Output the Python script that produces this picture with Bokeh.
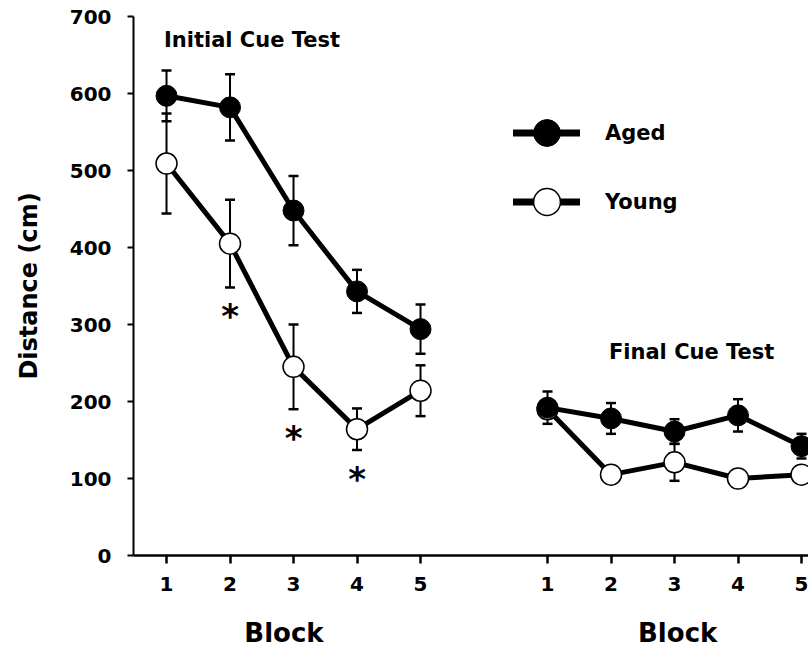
from bokeh.plotting import figure
from bokeh.layouts import column
from bokeh.core.properties import value
from bokeh.models import (ColumnDataSource, Whisker, TeeHead, Label, Legend, LegendItem,
                          FixedTicker, Range1d)
from bokeh.embed import file_html
from bokeh.resources import INLINE

# ---- data ----
blocks = [1, 2, 3, 4, 5]
block_labels = ["1", "2", "3", "4", "5"]
y_ticks = [0, 100, 200, 300, 400, 500, 600, 700]

initial_aged = [597, 582, 448, 343, 294]
initial_aged_sem = [33, 43, 45, 28, 32]
initial_young = [509, 405, 245, 164, 214]
initial_young_sem = [65, 57, 55, 27, 33]

final_aged = [192, 178, 161, 182, 142]
final_aged_sem = [21, 20, 16, 21, 16]
final_young = [190, 105, 121, 100, 105]
final_young_sem = [10, 5, 24, 5, 6]

sig_blocks = [2, 3, 4]  # significant differences in initial cue test

# ---- layout constants ----
FINAL_OFFSET = 6          # final test blocks drawn after a gap on the same axis
FONT = "DejaVu Sans"
STAR_GAP = 32             # distance of asterisks below young error bar

x_rng = Range1d(0.48, 11.11)
p = figure(width=808, height=600, output_backend="svg", toolbar_location=None,
           x_range=x_rng, y_range=Range1d(0, 700),
           min_border_left=133, min_border_right=0, min_border_top=16, min_border_bottom=45)
p.outline_line_color = None
p.xgrid.visible = False
p.ygrid.visible = False
p.background_fill_color = "white"
p.border_fill_color = "white"


def make_src(xs, ys, errs):
    return ColumnDataSource(dict(x=xs, y=ys,
                                 upper=[a + b for a, b in zip(ys, errs)],
                                 lower=[a - b for a, b in zip(ys, errs)]))


final_x = [b + FINAL_OFFSET for b in blocks]
src_ia = make_src(blocks, initial_aged, initial_aged_sem)
src_iy = make_src(blocks, initial_young, initial_young_sem)
src_fa = make_src(final_x, final_aged, final_aged_sem)
src_fy = make_src(final_x, final_young, final_young_sem)

for src in (src_ia, src_iy, src_fa, src_fy):
    w = Whisker(base="x", upper="upper", lower="lower", source=src, level="underlay",
                line_width=2, line_color="black",
                upper_head=TeeHead(size=10, line_width=2.5, line_color="black"),
                lower_head=TeeHead(size=10, line_width=2.5, line_color="black"))
    p.add_layout(w)

for src in (src_iy, src_fy, src_ia, src_fa):
    p.line("x", "y", source=src, line_width=5, line_color="black", line_join="round")

for src in (src_iy, src_fy):
    p.scatter("x", "y", source=src, size=21, marker="circle",
              fill_color="white", line_color="black", line_width=1.5)
for src in (src_ia, src_fa):
    p.scatter("x", "y", source=src, size=21, marker="circle",
              fill_color="black", line_color="black", line_width=1)

# significance asterisks
star_y = [initial_young[b - 1] - initial_young_sem[b - 1] - STAR_GAP for b in sig_blocks]
p.text(x=sig_blocks, y=star_y, text=["*"] * len(sig_blocks),
       text_font=value(FONT), text_font_style="bold", text_font_size="34px",
       text_align="center", text_baseline="middle", y_offset=4, text_color="black")

# axes
p.xaxis.ticker = FixedTicker(ticks=blocks + final_x)
p.xaxis.major_label_overrides = {**{b: l for b, l in zip(blocks, block_labels)},
                                 **{b: l for b, l in zip(final_x, block_labels)}}
p.xaxis.minor_tick_line_color = None
p.xaxis.major_tick_in = 0
p.xaxis.major_tick_out = 8
p.xaxis.major_tick_line_width = 2.5
p.xaxis.axis_line_width = 2.5
p.xaxis.major_label_text_font = FONT
p.xaxis.major_label_text_font_style = "bold"
p.xaxis.major_label_text_font_size = "20px"
p.xaxis.major_label_text_color = "black"
p.xaxis.major_label_standoff = 13

p.yaxis.ticker = FixedTicker(ticks=y_ticks)
p.yaxis.minor_tick_line_color = None
p.yaxis.major_tick_in = 0
p.yaxis.major_tick_out = 6
p.yaxis.major_tick_line_width = 2
p.yaxis.axis_line_width = 2
p.yaxis.major_label_text_font = FONT
p.yaxis.major_label_text_font_style = "bold"
p.yaxis.major_label_text_font_size = "20px"
p.yaxis.major_label_text_color = "black"
p.yaxis.major_label_standoff = 16
p.yaxis.axis_label = "Distance (cm)"
p.yaxis.axis_label_text_font = FONT
p.yaxis.axis_label_text_font_style = "bold"
p.yaxis.axis_label_text_font_size = "24px"
p.yaxis.axis_label_text_color = "black"
p.yaxis.axis_label_standoff = 24

# panel titles
p.add_layout(Label(x=0.96, y=669, text="Initial Cue Test", text_font=FONT,
                   text_font_style="bold", text_font_size="21px", text_color="black",
                   text_align="left", text_baseline="middle"))
p.add_layout(Label(x=9.27, y=264, text="Final Cue Test", text_font=FONT,
                   text_font_style="bold", text_font_size="21px", text_color="black",
                   text_align="center", text_baseline="middle"))

# legend (hidden copies of the data renderers with larger glyphs)
la = p.line("x", "y", source=src_ia, line_width=7, line_color="black",
            line_cap="round", visible=False)
ma = p.scatter("x", "y", source=src_ia, size=27, marker="circle",
               fill_color="black", line_color="black", visible=False)
ly = p.line("x", "y", source=src_iy, line_width=7, line_color="black",
            line_cap="round", visible=False)
my = p.scatter("x", "y", source=src_iy, size=27, marker="circle", fill_color="white",
               line_color="black", line_width=1.5, visible=False)
legend = Legend(items=[LegendItem(label="Aged", renderers=[la, ma]),
                       LegendItem(label="Young", renderers=[ly, my])],
                location=(380, 320), padding=0, margin=0, spacing=2,
                glyph_width=67, glyph_height=67, label_standoff=25,
                label_text_font=FONT, label_text_font_style="bold",
                label_text_font_size="21px", label_text_color="black",
                border_line_color=None, background_fill_alpha=0)
p.add_layout(legend)

# strip below the axis carrying the two "Block" axis titles
p2 = figure(width=808, height=50, output_backend="svg", toolbar_location=None,
            x_range=x_rng, y_range=Range1d(0, 1),
            min_border_left=133, min_border_right=0, min_border_top=0, min_border_bottom=0)
p2.axis.visible = False
p2.xgrid.visible = False
p2.ygrid.visible = False
p2.outline_line_color = None
p2.text(x=[2.85, 9.05], y=[0.36, 0.36], text=["Block", "Block"], text_font=value(FONT),
        text_font_style="bold", text_font_size="26px", text_color="black",
        text_align="center", text_baseline="middle")

layout = column(p, p2, spacing=0)
open("out.html", "w").write(file_html(layout, INLINE))
